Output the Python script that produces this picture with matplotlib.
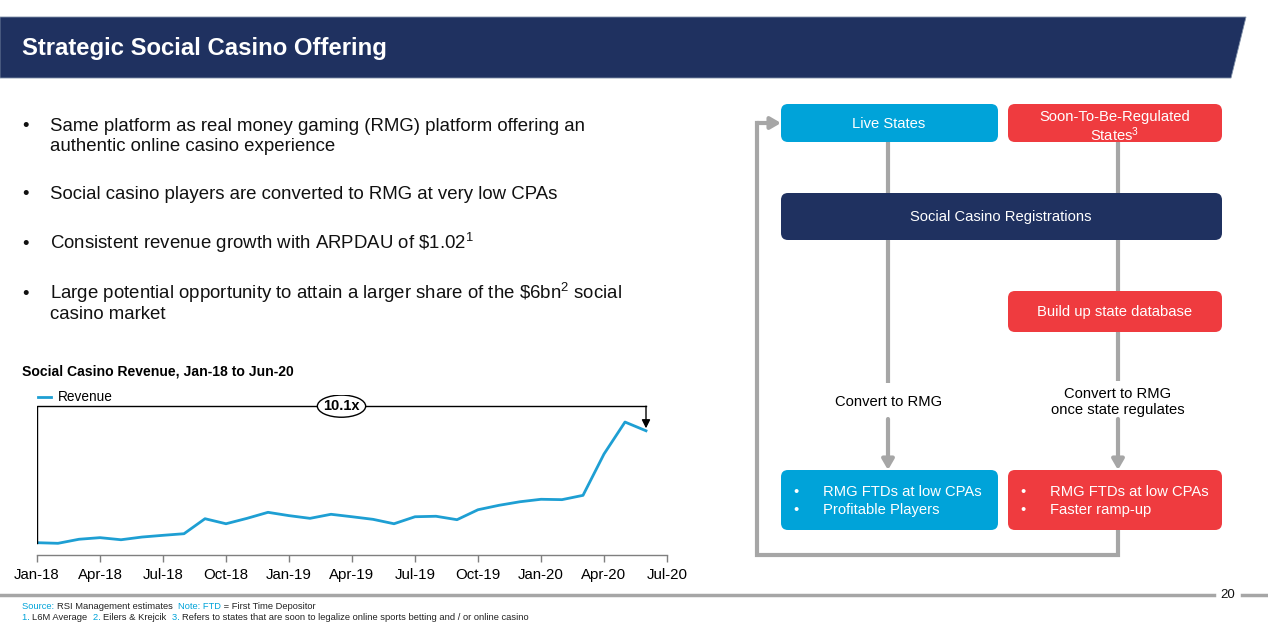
import matplotlib
matplotlib.use("Agg")
import matplotlib.pyplot as plt
from matplotlib.patches import FancyBboxPatch, Polygon, Ellipse

plt.rcParams["font.family"] = ["Liberation Sans", "DejaVu Sans"]
plt.rcParams["mathtext.fontset"] = "custom"
plt.rcParams["mathtext.rm"] = "Liberation Sans"
plt.rcParams["mathtext.it"] = "Liberation Sans:italic"
plt.rcParams["mathtext.bf"] = "Liberation Sans:bold"

# Revenue indexed to Jan-18 = 1.0 (monthly, Jan-18 .. Jun-20)
months = list(range(30))
revenue = [1.00, 0.95, 1.28, 1.41, 1.24, 1.46, 1.60, 1.73, 2.95, 2.54,
           2.98, 3.47, 3.20, 2.98, 3.31, 3.11, 2.90, 2.54, 3.11, 3.15,
           2.87, 3.68, 4.04, 4.33, 4.53, 4.50, 4.85, 8.21, 10.81, 10.10]
tick_pos = [0, 3, 6, 9, 12, 15, 18, 21, 24, 27, 30]
tick_labels = ["Jan-18", "Apr-18", "Jul-18", "Oct-18", "Jan-19", "Apr-19",
               "Jul-19", "Oct-19", "Jan-20", "Apr-20", "Jul-20"]
multiple = "10.1x"

bullets = [
    ["Same platform as real money gaming (RMG) platform offering an",
     "authentic online casino experience"],
    ["Social casino players are converted to RMG at very low CPAs"],
    ["Consistent revenue growth with ARPDAU of \\$1.02$^{1}$"],
    ["Large potential opportunity to attain a larger share of the \\$6bn$^{2}$ social",
     "casino market"],
]
bullet_base = [131, 199, 249, 299]

NAVY = "#1F3160"
BLUE = "#00A3D9"
RED = "#EF3B3F"
GREY = "#A6A6A6"
LINE = "#1E9FD3"
TXT = "#111111"

W, H = 1268, 626
fig = plt.figure(figsize=(W / 100, H / 100), dpi=100)

# full-slide overlay in pixel coordinates
bg = fig.add_axes([0, 0, 1, 1])
bg.set_xlim(0, W)
bg.set_ylim(H, 0)
bg.axis("off")

# title banner
bg.add_patch(Polygon([(0, 17), (1246, 17), (1231, 78), (0, 78)], closed=True,
                     facecolor=NAVY, edgecolor="#8090A8", linewidth=0.6))
bg.text(22, 48, "Strategic Social Casino Offering", color="white", fontsize=17.2,
        fontweight="bold", va="center", ha="left")

# bullets
for lines, yb in zip(bullets, bullet_base):
    bg.text(22, yb, "•", fontsize=13.4, va="baseline", ha="left", color=TXT)
    for k, t in enumerate(lines):
        bg.text(50, yb + 20 * k, t, fontsize=13.4, va="baseline", ha="left", color=TXT)

# chart title
bg.text(22, 372, "Social Casino Revenue, Jan-18 to Jun-20", fontsize=10.1,
        fontweight="bold", va="center", ha="left")

# flow diagram
def box(x0, y0, x1, y1, color):
    r = 7
    bg.add_patch(FancyBboxPatch((x0 + r, y0 + r), x1 - x0 - 2 * r, y1 - y0 - 2 * r,
                                boxstyle="round,pad=%d" % r, facecolor=color,
                                edgecolor="none", zorder=3))

AR = dict(arrowstyle="-|>,head_length=0.6,head_width=0.35", color=GREY, lw=3,
          shrinkA=0, shrinkB=0)

def vline(x, y0, y1, arrow=False):
    if arrow:
        bg.annotate("", xy=(x, y1), xytext=(x, y0), arrowprops=AR, zorder=2)
    else:
        bg.plot([x, x], [y0, y1], color=GREY, lw=3, zorder=2, solid_capstyle="butt")

vline(888, 142, 193)
vline(1118, 142, 193)
vline(888, 240, 383)
vline(1118, 240, 291)
vline(1118, 332, 381)
vline(888, 419, 470, arrow=True)
vline(1118, 419, 470, arrow=True)
# loop-back connector
bg.plot([1118, 1118, 757, 757], [530, 555, 555, 123], color=GREY, lw=3, zorder=2,
        solid_joinstyle="miter")
bg.annotate("", xy=(781, 123), xytext=(757, 123), arrowprops=AR, zorder=2)

box(781, 104, 998, 142, BLUE)
box(1008, 104, 1222, 142, RED)
box(781, 193, 1222, 240, NAVY)
box(1008, 291, 1222, 332, RED)
box(781, 470, 998, 530, BLUE)
box(1008, 470, 1222, 530, RED)

fs = 10.6
bg.text(889, 124, "Live States", color="white", fontsize=fs, ha="center", va="center", zorder=4)
bg.text(1115, 127, "Soon-To-Be-Regulated\nStates$^{3}$", color="white", fontsize=fs,
        ha="center", va="center", zorder=4, linespacing=1.05)
bg.text(1001, 217, "Social Casino Registrations", color="white", fontsize=fs,
        ha="center", va="center", zorder=4)
bg.text(1115, 312, "Build up state database", color="white", fontsize=fs,
        ha="center", va="center", zorder=4)
bg.text(889, 402, "Convert to RMG", fontsize=fs, ha="center", va="center")
bg.text(1118, 402, "Convert to RMG\nonce state regulates", fontsize=fs, ha="center",
        va="center", linespacing=1.2)
for x0, lines in [(781, ["RMG FTDs at low CPAs", "Profitable Players"]),
                  (1008, ["RMG FTDs at low CPAs", "Faster ramp-up"])]:
    for k, t in enumerate(lines):
        yy = 492 + 18 * k
        bg.text(x0 + 12, yy, "•", color="white", fontsize=fs, va="center", zorder=4)
        bg.text(x0 + 42, yy, t, color="white", fontsize=fs, va="center", zorder=4)

# footer
bg.plot([0, 1214], [595, 595], color=GREY, lw=2.5)
bg.plot([1242, W], [595, 595], color=GREY, lw=2.5)
bg.text(1228, 595, "20", fontsize=9.5, ha="center", va="center", color=TXT)

def chain(x, y, pieces):
    prev = bg.text(x, y, pieces[0][0], color=pieces[0][1], fontsize=6.75, va="baseline")
    for t, c in pieces[1:]:
        prev = bg.annotate(t, xy=(1, 0), xycoords=prev, va="bottom", ha="left",
                           color=c, fontsize=6.75)
    return prev

chain(22, 609, [("Source: ", BLUE), ("RSI Management estimates  ", "#222222"),
                ("Note: FTD", BLUE), (" = First Time Depositor", "#222222")])
chain(22, 620, [("1. ", BLUE), ("L6M Average  ", "#222222"), ("2. ", BLUE),
                ("Eilers & Krejcik  ", "#222222"), ("3. ", BLUE),
                ("Refers to states that are soon to legalize online sports betting and / or online casino",
                 "#222222")])

# revenue chart
ax = fig.add_axes([37 / W, (H - 555) / H, (667 - 37) / W, (555 - 395) / H])
ax.patch.set_alpha(0)
ax.plot(months, revenue, color=LINE, lw=2, label="Revenue", solid_joinstyle="round")
ax.set_xlim(0, 30)
ax.set_ylim(0, (555 - 395) / 12.3)
ax.set_xticks(tick_pos)
ax.set_xticklabels(tick_labels, fontsize=10.8)
for lab in ax.get_xticklabels():
    lab.set_verticalalignment("baseline")
ax.tick_params(axis="x", direction="out", length=5, width=1, color="#7F7F7F", pad=12)
ax.set_yticks([])
for s in ["left", "right", "top"]:
    ax.spines[s].set_visible(False)
ax.spines["bottom"].set_color("#7F7F7F")
ax.spines["bottom"].set_linewidth(1)

# growth bracket
top = 12.1
ax.plot([months[0], months[0], months[-1]], [revenue[0], top, top], color="black", lw=1)
ax.annotate("", xy=(months[-1], revenue[-1] + 0.2), xytext=(months[-1], top),
            arrowprops=dict(arrowstyle="-|>,head_length=0.5,head_width=0.25",
                            color="black", lw=1, shrinkA=0, shrinkB=0))
mid = (months[0] + months[-1]) / 2
ax.add_patch(Ellipse((mid, top), 2.3, 1.8, facecolor="white", edgecolor="black", lw=1, zorder=3))
ax.text(mid, top, multiple, fontsize=10.5, fontweight="bold", ha="center", va="center", zorder=4)

ax.legend(loc="upper left", bbox_to_anchor=(33 / W, (H - 385) / H),
          bbox_transform=fig.transFigure, frameon=False, fontsize=9.8,
          handlelength=0.9, handletextpad=0.5, borderaxespad=0)

fig.savefig("out.png", dpi=100)
